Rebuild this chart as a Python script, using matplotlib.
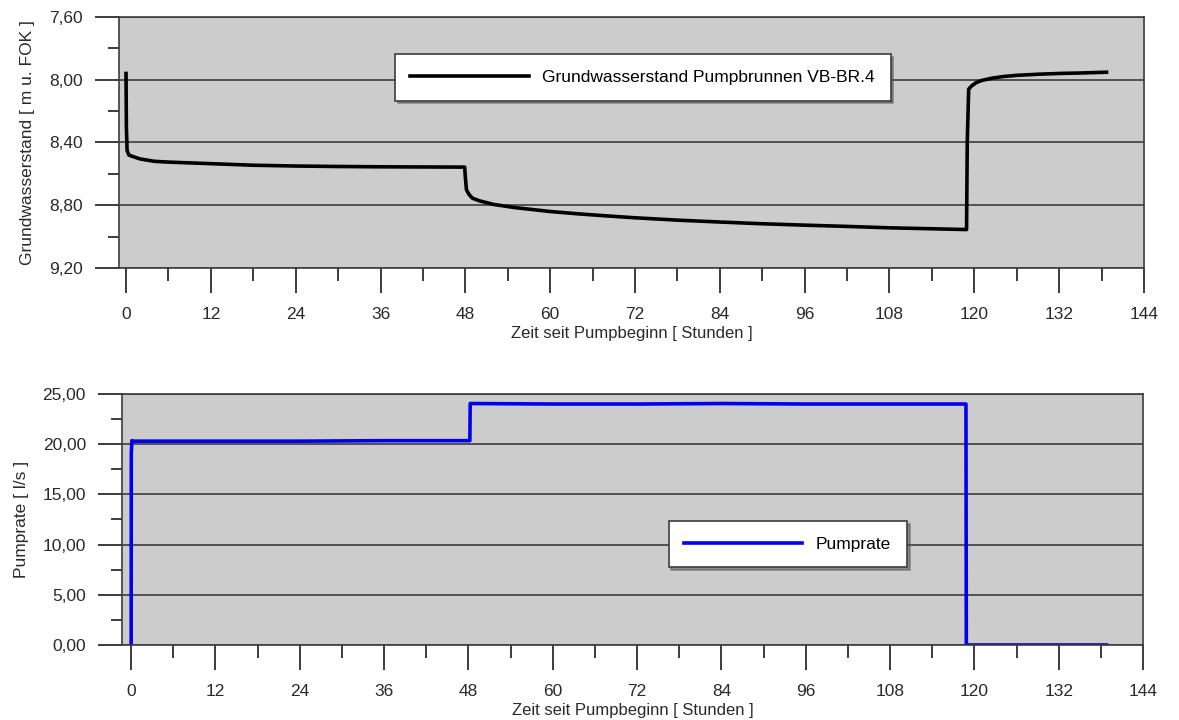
import matplotlib
matplotlib.use('Agg')
import matplotlib.pyplot as plt
from matplotlib.ticker import MultipleLocator, FuncFormatter

plt.rcParams['font.family'] = ['Liberation Sans', 'DejaVu Sans']

# Grundwasserstand Pumpbrunnen VB-BR.4 (m u. FOK) over time (h)
t_gw = [0.0, 0.05, 0.15, 0.4, 1, 2, 4, 6, 9, 12, 18, 24, 30, 36, 42, 47.9,
        48.0, 48.15, 48.5, 49, 50, 52, 55, 60, 64, 68, 72, 78, 84, 90, 96,
        102, 108, 114, 118.9, 119.0, 119.2, 119.6, 120.2, 121, 122.5, 124,
        126, 129, 132, 135, 138.7]
level_gw = [7.96, 8.30, 8.45, 8.48, 8.49, 8.505, 8.52, 8.525, 8.53, 8.535,
            8.545, 8.55, 8.553, 8.555, 8.556, 8.557,
            8.62, 8.70, 8.73, 8.755, 8.772, 8.795, 8.815, 8.84, 8.855, 8.868,
            8.88, 8.895, 8.907, 8.918, 8.927, 8.935, 8.944, 8.95, 8.955,
            8.40, 8.06, 8.04, 8.02, 8.005, 7.99, 7.98, 7.972, 7.965, 7.96,
            7.957, 7.952]

# Pumprate (l/s) over time (h)
t_q = [0.0, 0.02, 0.1, 0.4, 12, 24, 36, 48.2, 48.25, 60, 72, 84, 96, 108,
       118.8, 118.85, 138.8]
rate_q = [0.0, 19.0, 20.35, 20.3, 20.3, 20.3, 20.35, 20.35, 24.05, 24.0,
          24.0, 24.05, 24.0, 24.0, 24.0, 0.0, 0.0]

xlabel = 'Zeit seit Pumpbeginn [ Stunden ]'
dark = '#3c3c3c'
txt = '#2a2a2a'


def comma_fmt(v, pos):
    return f'{v:.2f}'.replace('.', ',')


def style_axes(ax):
    ax.set_facecolor('#cccccc')
    for s in ax.spines.values():
        s.set_color(dark)
        s.set_linewidth(1.2)
    ax.xaxis.set_major_locator(MultipleLocator(12))
    ax.xaxis.set_minor_locator(MultipleLocator(6))
    ax.tick_params(axis='both', which='major', direction='out', color=dark,
                   width=1.4, labelsize=12.5, labelcolor=txt)
    ax.tick_params(axis='x', which='major', length=18, pad=10)
    ax.tick_params(axis='x', which='minor', length=9, width=1.4, color=dark)
    ax.tick_params(axis='y', which='major', length=17, pad=9)
    ax.tick_params(axis='y', which='minor', length=8, width=1.4, color=dark)
    ax.yaxis.set_major_formatter(FuncFormatter(comma_fmt))
    ax.grid(axis='y', which='major', color=dark, linewidth=1.2)
    ax.set_axisbelow(True)
    ax.set_xlabel(xlabel, fontsize=12, labelpad=3, color=txt)


fig = plt.figure(figsize=(11.79, 7.2), dpi=100)

# upper chart: groundwater level
ax1 = fig.add_axes([0.1009, 0.6278, 0.8694, 0.3486])
style_axes(ax1)
ax1.plot(t_gw, level_gw, color='black', linewidth=2.6,
         label='Grundwasserstand Pumpbrunnen VB-BR.4')
ax1.set_xlim(-1.0, 144)
ax1.set_ylim(9.2, 7.6)
ax1.yaxis.set_major_locator(MultipleLocator(0.4))
ax1.yaxis.set_minor_locator(MultipleLocator(0.2))
ax1.set_ylabel('Grundwasserstand [ m u. FOK ]', fontsize=12.5, color=txt,
               labelpad=10)
leg1 = ax1.legend(loc='center', bbox_to_anchor=(0.511, 0.759), fontsize=12.5,
                  handlelength=6.8, handletextpad=0.8, borderpad=0.9,
                  fancybox=False, shadow=True, framealpha=1,
                  edgecolor=dark)
leg1.get_frame().set_linewidth(1.2)

# lower chart: pump rate
ax2 = fig.add_axes([0.1035, 0.1042, 0.866, 0.3486])
style_axes(ax2)
ax2.plot(t_q, rate_q, color='#0000ee', linewidth=2.6, label='Pumprate')
ax2.set_xlim(-1.3, 144)
ax2.set_ylim(0, 25)
ax2.yaxis.set_major_locator(MultipleLocator(5))
ax2.yaxis.set_minor_locator(MultipleLocator(2.5))
ax2.set_ylabel('Pumprate [ l/s ]', fontsize=12.5, color=txt, labelpad=10)
leg2 = ax2.legend(loc='center', bbox_to_anchor=(0.652, 0.402), fontsize=12.5,
                  handlelength=6.8, handletextpad=0.8, borderpad=0.9,
                  fancybox=False, shadow=True, framealpha=1,
                  edgecolor=dark)
leg2.get_frame().set_linewidth(1.2)

fig.savefig('out.png', dpi=100)
